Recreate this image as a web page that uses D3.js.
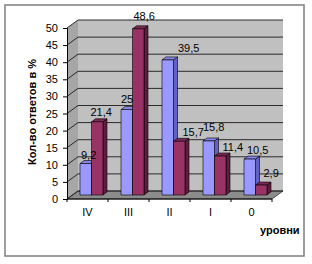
<!DOCTYPE html>
<html lang="ru">
<head>
    <meta charset="UTF-8">
    <title>Уровни</title>
    <script src="https://d3js.org/d3.v7.min.js"></script>
    <style>
        body { margin: 0; background: #fff; }
        text { font-family: "Liberation Sans", Arial, sans-serif; }
    </style>
</head>
<body>
    <svg width="312" height="264"></svg>

    <script>
        // Data
        const categories = ["IV", "III", "II", "I", "0"];
        const series1 = [9.2, 25, 39.5, 15.8, 10.5];
        const series2 = [21.4, 48.6, 15.7, 11.4, 2.9];
        const yTicks = [0, 5, 10, 15, 20, 25, 30, 35, 40, 45, 50];

        const width = 312, height = 264;
        const plot = { left: 67, right: 272, top: 28, bottom: 199 };
        const depth = { dx: 11, dy: -8 };     // wall depth
        const bd = { dx: 4, dy: -3 };          // bar depth

        const svg = d3.select("svg");

        svg.append("rect")
           .attr("x", 5).attr("y", 5)
           .attr("width", 299).attr("height", 251)
           .attr("fill", "#fff")
           .attr("stroke", "#858585")
           .attr("stroke-width", 1.6);

        const xScale = d3.scaleBand()
                         .domain(categories)
                         .range([plot.left, plot.right]);

        const yScale = d3.scaleLinear()
                         .domain([0, 50])
                         .range([plot.bottom, plot.top]);

        // label position (Excel 3D places labels a bit higher on tall bars)
        const labelY = d3.scaleLinear()
                         .domain([0, 50])
                         .range([187.5, 11]);

        // Walls and floor
        const pts = p => p.map(d => d.join(",")).join(" ");
        svg.append("polygon")
           .attr("points", pts([[plot.left + depth.dx, plot.top + depth.dy], [plot.right + depth.dx, plot.top + depth.dy],
                                [plot.right + depth.dx, plot.bottom + depth.dy], [plot.left + depth.dx, plot.bottom + depth.dy]]))
           .attr("fill", "#c0c0c0");
        svg.append("polygon")
           .attr("points", pts([[plot.left, plot.top], [plot.left + depth.dx, plot.top + depth.dy],
                                [plot.left + depth.dx, plot.bottom + depth.dy], [plot.left, plot.bottom]]))
           .attr("fill", "#a6a6a6");
        svg.append("polygon")
           .attr("points", pts([[plot.left, plot.bottom], [plot.right, plot.bottom],
                                [plot.right + depth.dx, plot.bottom + depth.dy], [plot.left + depth.dx, plot.bottom + depth.dy]]))
           .attr("fill", "#8c8c8c")
           .attr("stroke", "#333")
           .attr("stroke-width", 0.8);

        // Gridlines
        yTicks.forEach(t => {
            const y = yScale(t);
            svg.append("polyline")
               .attr("points", pts([[plot.left, y], [plot.left + depth.dx, y + depth.dy], [plot.right + depth.dx, y + depth.dy]]))
               .attr("fill", "none")
               .attr("stroke", "#1a1a1a")
               .attr("stroke-width", 0.9);
        });

        // Y axis
        svg.append("g")
           .attr("transform", `translate(${plot.left},0)`)
           .call(d3.axisLeft(yScale).tickValues(yTicks).tickSize(4).tickPadding(5))
           .call(g => g.selectAll("text").style("font-size", "11px").attr("fill", "#000"))
           .call(g => g.selectAll("line, path").attr("stroke", "#000"));

        // X axis
        const xAxis = svg.append("g")
           .attr("transform", `translate(0,${plot.bottom})`);
        xAxis.append("line")
             .attr("x1", plot.left).attr("x2", plot.right)
             .attr("stroke", "#000");
        xAxis.selectAll(".xt")
             .data(d3.range(categories.length + 1))
             .enter().append("line")
             .attr("x1", i => plot.left + i * xScale.bandwidth())
             .attr("x2", i => plot.left + i * xScale.bandwidth())
             .attr("y1", 0).attr("y2", 3)
             .attr("stroke", "#000");
        xAxis.selectAll(".xl")
             .data(categories)
             .enter().append("text")
             .attr("x", d => xScale(d) + xScale.bandwidth() / 2)
             .attr("y", 17)
             .attr("text-anchor", "middle")
             .style("font-size", "11px")
             .text(d => d);

        // Bars
        const barW = 11.5;
        const shiftX = depth.dx / 2 - 0.5, shiftY = depth.dy / 2;
        const base = plot.bottom + shiftY;

        function drawBar(x, v, front, side, top) {
            const yt = yScale(v) + shiftY;
            const g = svg.append("g").attr("stroke", "#000").attr("stroke-width", 0.6).attr("stroke-linejoin", "round");
            g.append("polygon")
             .attr("points", pts([[x + barW, yt], [x + barW + bd.dx, yt + bd.dy], [x + barW + bd.dx, base + bd.dy], [x + barW, base]]))
             .attr("fill", side);
            g.append("polygon")
             .attr("points", pts([[x, yt], [x + bd.dx, yt + bd.dy], [x + barW + bd.dx, yt + bd.dy], [x + barW, yt]]))
             .attr("fill", top);
            g.append("rect")
             .attr("x", x).attr("y", yt)
             .attr("width", barW).attr("height", base - yt)
             .attr("fill", front);
        }

        const nudge1 = [[1, 0], [0, 0], [16, 0], [0, -5], [3, 0]];
        const nudge2 = [[-1, 0], [1, 0], [9, 0], [8, 0], [8, -4]];
        const fmt = v => String(v).replace(".", ",");

        categories.forEach((c, i) => {
            const x1 = xScale(c) + 8 + shiftX;
            const x2 = x1 + barW;
            drawBar(x1, series1[i], "#9999ff", "#6262c4", "#8585e8");
            drawBar(x2, series2[i], "#993366", "#5e1f3f", "#7d2953");
        });

        categories.forEach((c, i) => {
            const x1 = xScale(c) + 8 + shiftX;
            const x2 = x1 + barW;
            [[x1, series1[i], nudge1[i]], [x2, series2[i], nudge2[i]]].forEach(([x, v, n]) => {
                svg.append("text")
                   .attr("x", x + n[0])
                   .attr("y", labelY(v) + n[1] + 4)
                   .style("font-size", "11px")
                   .text(fmt(v));
            });
        });

        // Axis titles
        svg.append("text")
           .attr("transform", "rotate(-90)")
           .attr("x", -112)
           .attr("y", 36)
           .attr("text-anchor", "middle")
           .style("font-size", "11px")
           .style("font-weight", "bold")
           .text("Кол-во ответов в %");

        svg.append("text")
           .attr("x", 260)
           .attr("y", 234)
           .style("font-size", "11px")
           .style("font-weight", "bold")
           .text("уровни");
    </script>
</body>
</html>
